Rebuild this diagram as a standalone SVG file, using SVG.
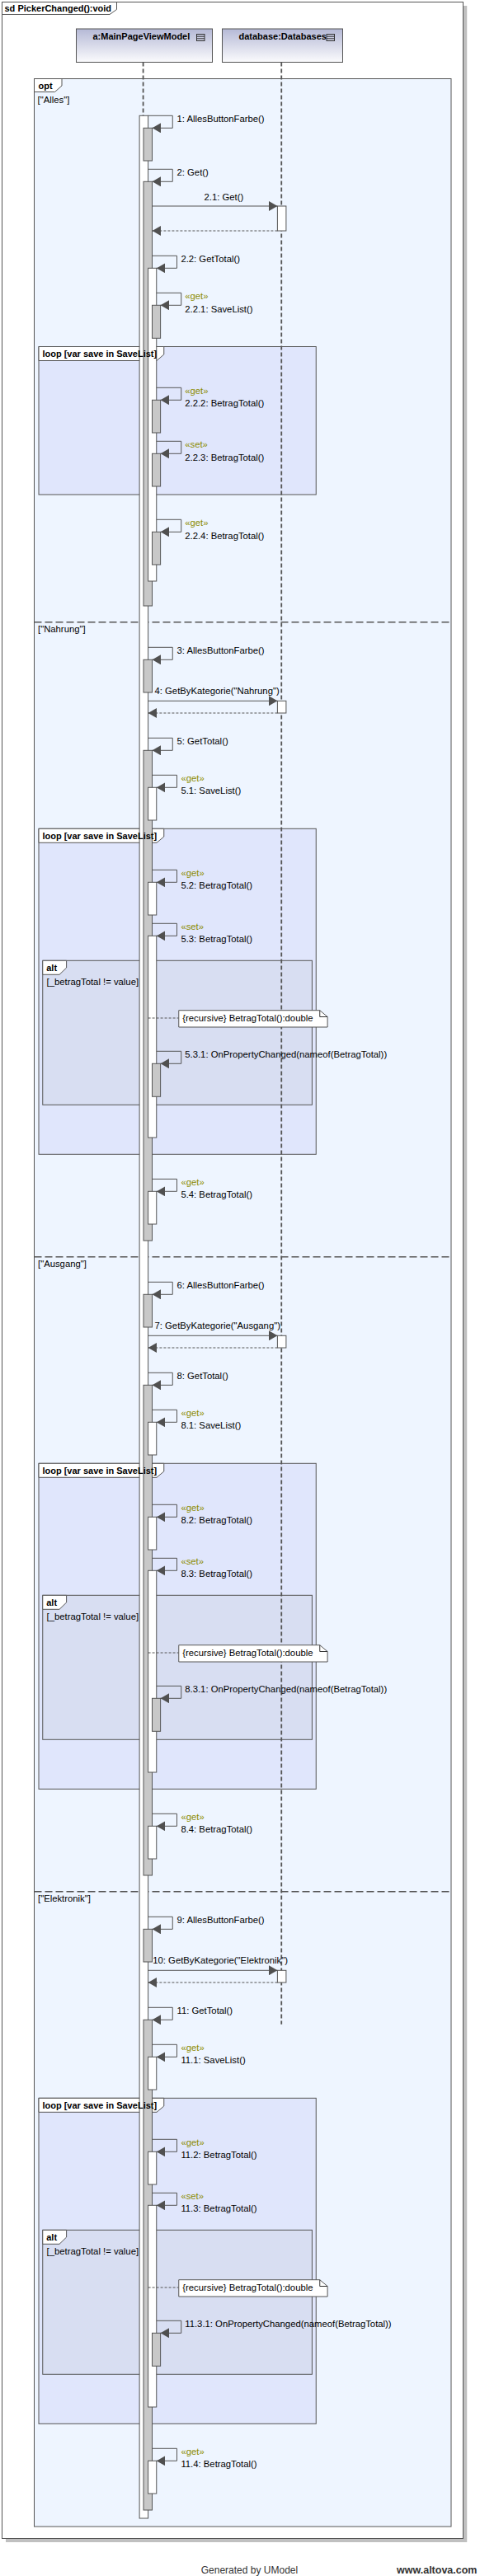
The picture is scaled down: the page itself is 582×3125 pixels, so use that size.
<svg xmlns="http://www.w3.org/2000/svg" width="582" height="3125" viewBox="0 0 582 3125">
<style>
.t{font-family:"Liberation Sans",Arial,sans-serif;font-size:11.3px;fill:#000}
.b{font-weight:bold;font-size:11px}
.st{fill:#8c8c00}
.frame{fill:#fff;stroke:#555;stroke-width:1}
.opt{fill:#eef5ff;stroke:#555;stroke-width:1}
.loop{fill:#e0e6fc;stroke:#555;stroke-width:1}
.alt{fill:#d8def2;stroke:#555;stroke-width:1}
.tab{fill:#fff;stroke:#555;stroke-width:1}
.life{fill:none;stroke:#555;stroke-width:1.8;stroke-dasharray:5 3}
.sep{fill:none;stroke:#555;stroke-width:1.5;stroke-dasharray:9 4}
.bw{fill:#fff;stroke:#555;stroke-width:1}
.bg{fill:#c8c8c8;stroke:#555;stroke-width:1}
.msg{fill:none;stroke:#555;stroke-width:1;marker-end:url(#ah)}
.ret{fill:none;stroke:#555;stroke-width:1;stroke-dasharray:3 2;marker-end:url(#ah)}
.nl{fill:none;stroke:#555;stroke-width:1;stroke-dasharray:3 2}
.note{fill:#fff;stroke:#555;stroke-width:1}
.hd{fill:url(#hg);stroke:#555;stroke-width:1}
.ic{fill:none;stroke:#333;stroke-width:1}
</style>
<defs>
<linearGradient id="hg" x1="0" y1="0" x2="0" y2="1">
<stop offset="0" stop-color="#b5b9d6"/>
<stop offset="1" stop-color="#fbfbfd"/>
</linearGradient>
<marker id="ah" viewBox="0 0 10.5 12" refX="10.5" refY="6" markerWidth="10.5" markerHeight="12" markerUnits="userSpaceOnUse" orient="auto">
<path d="M0,0 L10.5,6 L0,12 z" fill="#505050"/>
</marker>
</defs>

<g id="diagram-frame">
<rect x="7" y="7" width="559.25" height="3077" fill="#c0c0c0"/>
<rect class="frame" x="2.5" y="2.5" width="559" height="3077"/>
<polygon class="tab" points="2.5,2.5 141.5,2.5 141.5,11.5 133,17.5 2.5,17.5"/>
<text class="t b" x="5.5" y="13.5">sd PickerChanged():void</text>
</g>

<g id="head-mainpageviewmodel">
<rect class="hd" x="92.5" y="35" width="165" height="40.5"/>
<text class="t b" x="112.5" y="47.7">a:MainPageViewModel</text>
<rect class="ic" x="238.5" y="41.5" width="9.5" height="8"/>
<line class="ic" x1="238.5" y1="44.2" x2="248" y2="44.2"/>
<line class="ic" x1="238.5" y1="46.8" x2="248" y2="46.8"/>
</g>
<g id="head-database">
<rect class="hd" x="269.5" y="35" width="146" height="40.5"/>
<text class="t b" x="289.5" y="47.7">database:Databases</text>
<rect class="ic" x="396" y="41.5" width="9.5" height="8"/>
<line class="ic" x1="396" y1="44.2" x2="405.5" y2="44.2"/>
<line class="ic" x1="396" y1="46.8" x2="405.5" y2="46.8"/>
</g>

<g id="opt-fragment">
<rect class="opt" x="41.5" y="95.5" width="505.5" height="2969.5"/>
<polygon class="tab" points="41.5,95.5 75,95.5 75,104 66.5,111.5 41.5,111.5"/>
<text class="t b" x="46.5" y="107.5">opt</text>
<text class="t" x="45.5" y="124.5">["Alles"]</text>
<line class="sep" x1="41.5" y1="754.7" x2="547" y2="754.7"/>
<text class="t" x="46" y="767.3">["Nahrung"]</text>
<line class="sep" x1="41.5" y1="1524.7" x2="547" y2="1524.7"/>
<text class="t" x="46" y="1537.3">["Ausgang"]</text>
<line class="sep" x1="41.5" y1="2294.7" x2="547" y2="2294.7"/>
<text class="t" x="46" y="2307.3">["Elektronik"]</text>
</g>

<g id="loop-1">
<rect class="loop" x="47" y="420.5" width="336.25" height="179.5"/>
<polygon class="tab" points="47,420.5 198.75,420.5 198.75,430 190,437.5 47,437.5"/>
</g>
<g id="loop-2">
<rect class="loop" x="47" y="1005.3" width="336.25" height="395"/>
<polygon class="tab" points="47,1005.3 198.75,1005.3 198.75,1015 190,1022.3 47,1022.3"/>
</g>
<g id="loop-3">
<rect class="loop" x="47" y="1775.3" width="336.25" height="395"/>
<polygon class="tab" points="47,1775.3 198.75,1775.3 198.75,1785 190,1792.3 47,1792.3"/>
</g>
<g id="loop-4">
<rect class="loop" x="47" y="2545.3" width="336.25" height="395"/>
<polygon class="tab" points="47,2545.3 198.75,2545.3 198.75,2555 190,2562.3 47,2562.3"/>
</g>

<g id="alt-2">
<rect class="alt" x="51.75" y="1165.3" width="326.65" height="175"/>
<polygon class="tab" points="51.75,1165.3 80.6,1165.3 80.6,1174 72,1182.3 51.75,1182.3"/>
</g>
<g id="alt-3">
<rect class="alt" x="51.75" y="1935.3" width="326.65" height="175"/>
<polygon class="tab" points="51.75,1935.3 80.6,1935.3 80.6,1944 72,1952.3 51.75,1952.3"/>
</g>
<g id="alt-4">
<rect class="alt" x="51.75" y="2705.3" width="326.65" height="175"/>
<polygon class="tab" points="51.75,2705.3 80.6,2705.3 80.6,2714 72,2722.3 51.75,2722.3"/>
</g>

<g id="lifelines">
<line class="life" x1="173.6" y1="75.5" x2="173.6" y2="3055"/>
<line class="life" x1="341.25" y1="75.5" x2="341.25" y2="2455.7"/>
</g>

<g id="activations">
<rect class="bw" x="169.1" y="140.3" width="10.5" height="2914.7"/>
<rect class="bg" x="174" y="155.3" width="10.5" height="39.7"/>
<rect class="bg" x="174" y="220.3" width="10.5" height="514.7"/>
<rect class="bw" x="336.4" y="250" width="10.5" height="30"/>
<rect class="bw" x="179.6" y="325.3" width="10.15" height="379.7"/>
<rect class="bg" x="184.5" y="370.3" width="10.1" height="40"/>
<rect class="bg" x="184.5" y="485.3" width="10.1" height="39.7"/>
<rect class="bg" x="184.5" y="550.3" width="10.1" height="39.7"/>
<rect class="bg" x="184.5" y="645.3" width="10.1" height="39.7"/>

<rect class="bg" x="174" y="800.3" width="10.5" height="39.7"/>
<rect class="bw" x="336.4" y="850.3" width="10.5" height="14.7"/>
<rect class="bg" x="174" y="910.3" width="10.5" height="594.7"/>
<rect class="bw" x="179.6" y="955.3" width="10.15" height="39.7"/>
<rect class="bw" x="179.6" y="1070.3" width="10.15" height="39.7"/>
<rect class="bw" x="179.6" y="1135.3" width="10.15" height="244.7"/>
<rect class="bg" x="184.5" y="1290.3" width="10.1" height="40"/>
<rect class="bw" x="179.6" y="1445.3" width="10.15" height="39.7"/>

<rect class="bg" x="174" y="1570.3" width="10.5" height="39.7"/>
<rect class="bw" x="336.4" y="1620.3" width="10.5" height="14.7"/>
<rect class="bg" x="174" y="1680.3" width="10.5" height="594.7"/>
<rect class="bw" x="179.6" y="1725.3" width="10.15" height="39.7"/>
<rect class="bw" x="179.6" y="1840.3" width="10.15" height="39.7"/>
<rect class="bw" x="179.6" y="1905.3" width="10.15" height="244.7"/>
<rect class="bg" x="184.5" y="2060.3" width="10.1" height="40"/>
<rect class="bw" x="179.6" y="2215.3" width="10.15" height="39.7"/>

<rect class="bg" x="174" y="2340.3" width="10.5" height="39.7"/>
<rect class="bw" x="336.4" y="2390.3" width="10.5" height="14.7"/>
<rect class="bg" x="174" y="2450.3" width="10.5" height="594.7"/>
<rect class="bw" x="179.6" y="2495.3" width="10.15" height="39.7"/>
<rect class="bw" x="179.6" y="2610.3" width="10.15" height="39.7"/>
<rect class="bw" x="179.6" y="2675.3" width="10.15" height="244.7"/>
<rect class="bg" x="184.5" y="2830.3" width="10.1" height="40"/>
<rect class="bw" x="179.6" y="2985.3" width="10.15" height="39.7"/>
</g>

<g id="fragment-labels">
<text class="t b" x="51.4" y="432.7">loop [var save in SaveList]</text>
<text class="t b" x="51.4" y="1017.7">loop [var save in SaveList]</text>
<text class="t b" x="51.4" y="1787.7">loop [var save in SaveList]</text>
<text class="t b" x="51.4" y="2557.7">loop [var save in SaveList]</text>
<text class="t b" x="56.25" y="1177.7">alt</text>
<text class="t" x="56.6" y="1194.7">[_betragTotal != value]</text>
<text class="t b" x="56.25" y="1947.7">alt</text>
<text class="t" x="56.6" y="1964.7">[_betragTotal != value]</text>
<text class="t b" x="56.25" y="2717.7">alt</text>
<text class="t" x="56.6" y="2734.7">[_betragTotal != value]</text>
</g>

<g id="note-2">
<line class="nl" x1="179.6" y1="1235" x2="216.75" y2="1235"/>
<polygon class="note" points="216.75,1225.7 387.75,1225.7 397.1,1233.5 397.1,1246 216.75,1246"/>
<path class="ic" d="M387.75,1225.7 V1233.5 H397.1" stroke="#555"/>
<text class="t" x="221.25" y="1239">{recursive} BetragTotal():double</text>
</g>
<g id="note-3">
<line class="nl" x1="179.6" y1="2005" x2="216.75" y2="2005"/>
<polygon class="note" points="216.75,1995.7 387.75,1995.7 397.1,2003.5 397.1,2016 216.75,2016"/>
<path class="ic" d="M387.75,1995.7 V2003.5 H397.1" stroke="#555"/>
<text class="t" x="221.25" y="2009">{recursive} BetragTotal():double</text>
</g>
<g id="note-4">
<line class="nl" x1="179.6" y1="2775" x2="216.75" y2="2775"/>
<polygon class="note" points="216.75,2765.7 387.75,2765.7 397.1,2773.5 397.1,2786 216.75,2786"/>
<path class="ic" d="M387.75,2765.7 V2773.5 H397.1" stroke="#555"/>
<text class="t" x="221.25" y="2779">{recursive} BetragTotal():double</text>
</g>

<g id="connectors">
<path class="msg" d="M179.6,140.3 H209.25 V155.3 H184.5"/>
<text class="t" x="214.5" y="148.3">1: AllesButtonFarbe()</text>
<path class="msg" d="M179.6,205.3 H209.25 V220.3 H184.5"/>
<text class="t" x="214.5" y="213.3">2: Get()</text>
<path class="msg" d="M184.5,250 H336.4"/>
<text class="t" x="247.5" y="242.7">2.1: Get()</text>
<path class="ret" d="M336.4,280 H184.5"/>
<path class="msg" d="M184.5,310.3 H214.5 V325.3 H189.75"/>
<text class="t" x="219.4" y="318.3">2.2: GetTotal()</text>
<path class="msg" d="M189.75,355.3 H219.75 V370.3 H194.6"/>
<text class="t st" x="224.25" y="363.3">«get»</text>
<text class="t" x="224.25" y="378.7">2.2.1: SaveList()</text>
<path class="msg" d="M189.75,470.3 H219.75 V485.3 H194.6"/>
<text class="t st" x="224.25" y="478.3">«get»</text>
<text class="t" x="224.25" y="493.3">2.2.2: BetragTotal()</text>
<path class="msg" d="M189.75,535.3 H219.75 V550.3 H194.6"/>
<text class="t st" x="224.25" y="543.3">«set»</text>
<text class="t" x="224.25" y="558.7">2.2.3: BetragTotal()</text>
<path class="msg" d="M189.75,630.3 H219.75 V645.3 H194.6"/>
<text class="t st" x="224.25" y="638.3">«get»</text>
<text class="t" x="224.25" y="653.7">2.2.4: BetragTotal()</text>

<path class="msg" d="M179.6,785.3 H209.25 V800.3 H184.5"/>
<text class="t" x="214.5" y="793.3">3: AllesButtonFarbe()</text>
<path class="msg" d="M179.6,850.3 H336.4"/>
<text class="t" x="187.5" y="842.3">4: GetByKategorie("Nahrung")</text>
<path class="ret" d="M336.4,865 H179.6"/>
<path class="msg" d="M179.6,895.3 H209.25 V910.3 H184.5"/>
<text class="t" x="214.5" y="903.3">5: GetTotal()</text>
<path class="msg" d="M184.5,940.3 H214.5 V955.3 H189.75"/>
<text class="t st" x="219.4" y="948.3">«get»</text>
<text class="t" x="219.4" y="963.3">5.1: SaveList()</text>
<path class="msg" d="M184.5,1055.3 H214.5 V1070.3 H189.75"/>
<text class="t st" x="219.4" y="1063.3">«get»</text>
<text class="t" x="219.4" y="1078.3">5.2: BetragTotal()</text>
<path class="msg" d="M184.5,1120.3 H214.5 V1135.3 H189.75"/>
<text class="t st" x="219.4" y="1128.3">«set»</text>
<text class="t" x="219.4" y="1143.3">5.3: BetragTotal()</text>
<path class="msg" d="M189.75,1275.3 H219.75 V1290.3 H194.6"/>
<text class="t" x="224.25" y="1283.3">5.3.1: OnPropertyChanged(nameof(BetragTotal))</text>
<path class="msg" d="M184.5,1430.3 H214.5 V1445.3 H189.75"/>
<text class="t st" x="219.4" y="1438.3">«get»</text>
<text class="t" x="219.4" y="1453.3">5.4: BetragTotal()</text>

<path class="msg" d="M179.6,1555.3 H209.25 V1570.3 H184.5"/>
<text class="t" x="214.5" y="1563.3">6: AllesButtonFarbe()</text>
<path class="msg" d="M179.6,1620.3 H336.4"/>
<text class="t" x="187.5" y="1612.3">7: GetByKategorie("Ausgang")</text>
<path class="ret" d="M336.4,1635 H179.6"/>
<path class="msg" d="M179.6,1665.3 H209.25 V1680.3 H184.5"/>
<text class="t" x="214.5" y="1673.3">8: GetTotal()</text>
<path class="msg" d="M184.5,1710.3 H214.5 V1725.3 H189.75"/>
<text class="t st" x="219.4" y="1718.3">«get»</text>
<text class="t" x="219.4" y="1733.3">8.1: SaveList()</text>
<path class="msg" d="M184.5,1825.3 H214.5 V1840.3 H189.75"/>
<text class="t st" x="219.4" y="1833.3">«get»</text>
<text class="t" x="219.4" y="1848.3">8.2: BetragTotal()</text>
<path class="msg" d="M184.5,1890.3 H214.5 V1905.3 H189.75"/>
<text class="t st" x="219.4" y="1898.3">«set»</text>
<text class="t" x="219.4" y="1913.3">8.3: BetragTotal()</text>
<path class="msg" d="M189.75,2045.3 H219.75 V2060.3 H194.6"/>
<text class="t" x="224.25" y="2053.3">8.3.1: OnPropertyChanged(nameof(BetragTotal))</text>
<path class="msg" d="M184.5,2200.3 H214.5 V2215.3 H189.75"/>
<text class="t st" x="219.4" y="2208.3">«get»</text>
<text class="t" x="219.4" y="2223.3">8.4: BetragTotal()</text>

<path class="msg" d="M179.6,2325.3 H209.25 V2340.3 H184.5"/>
<text class="t" x="214.5" y="2333.3">9: AllesButtonFarbe()</text>
<path class="msg" d="M179.6,2390.3 H336.4"/>
<text class="t" x="185.25" y="2382.3">10: GetByKategorie("Elektronik")</text>
<path class="ret" d="M336.4,2405 H179.6"/>
<path class="msg" d="M179.6,2435.3 H209.25 V2450.3 H184.5"/>
<text class="t" x="214.5" y="2443.3">11: GetTotal()</text>
<path class="msg" d="M184.5,2480.3 H214.5 V2495.3 H189.75"/>
<text class="t st" x="219.4" y="2488.3">«get»</text>
<text class="t" x="219.4" y="2503.3">11.1: SaveList()</text>
<path class="msg" d="M184.5,2595.3 H214.5 V2610.3 H189.75"/>
<text class="t st" x="219.4" y="2603.3">«get»</text>
<text class="t" x="219.4" y="2618.3">11.2: BetragTotal()</text>
<path class="msg" d="M184.5,2660.3 H214.5 V2675.3 H189.75"/>
<text class="t st" x="219.4" y="2668.3">«set»</text>
<text class="t" x="219.4" y="2683.3">11.3: BetragTotal()</text>
<path class="msg" d="M189.75,2815.3 H219.75 V2830.3 H194.6"/>
<text class="t" x="224.25" y="2823.3">11.3.1: OnPropertyChanged(nameof(BetragTotal))</text>
<path class="msg" d="M184.5,2970.3 H214.5 V2985.3 H189.75"/>
<text class="t st" x="219.4" y="2978.3">«get»</text>
<text class="t" x="219.4" y="2993.3">11.4: BetragTotal()</text>
</g>

<g id="footer">
<text x="243.75" y="3121.5" style="font-family:'Liberation Sans',Arial,sans-serif;font-size:12px;fill:#333">Generated by UModel</text>
<text x="481" y="3121.5" style="font-family:'Liberation Sans',Arial,sans-serif;font-size:12.5px;font-weight:bold;fill:#333">www.altova.com</text>
</g>
</svg>
